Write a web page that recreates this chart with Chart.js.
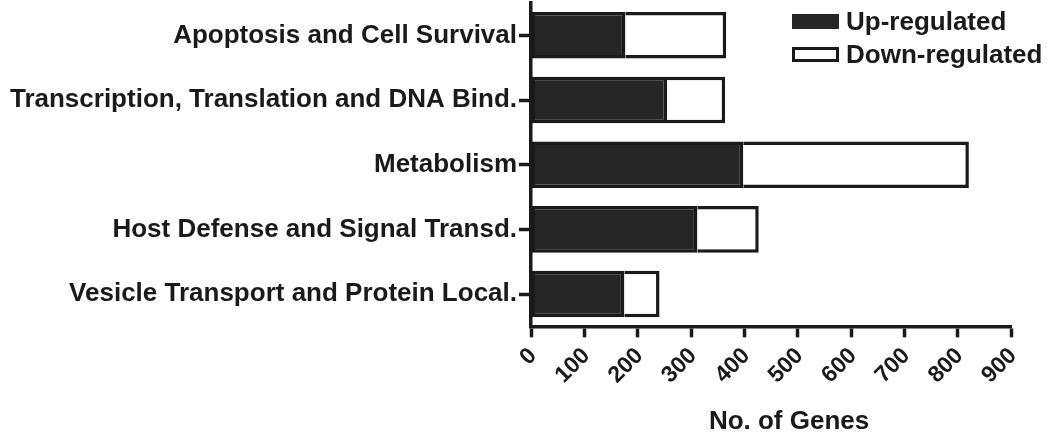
<!DOCTYPE html>
<html>
<head>
<meta charset="utf-8">
<title>No. of Genes</title>
<script src="https://cdn.jsdelivr.net/npm/chart.js@4.4.1/dist/chart.umd.min.js"></script>
<style>
    html, body { margin: 0; padding: 0; background: #fff; }
    #wrap { position: relative; width: 1050px; height: 436px; }
    #legend {
        position: absolute; left: 792px; top: 5px;
        list-style: none; margin: 0; padding: 0;
        font: bold 26px "Liberation Sans", Arial, sans-serif; color: #1a1a1a;
    }
    #legend li { display: flex; align-items: center; height: 33px; }
    #legend .swatch { width: 47px; height: 15px; box-sizing: border-box; margin-right: 7px; }
</style>
</head>
<body>
<div id="wrap">
    <canvas id="chartGenes" width="1050" height="436"></canvas>
    <ul id="legend"></ul>
</div>
<script>
// ---- datos ----
const categories = [
    'Apoptosis and Cell Survival',
    'Transcription, Translation and DNA Bind.',
    'Metabolism',
    'Host Defense and Signal Transd.',
    'Vesicle Transport and Protein Local.'
];
const upRegulated = [177, 255, 398, 312, 175];
const downRegulated = [189, 109, 423, 115, 66];
const xTicks = [0, 100, 200, 300, 400, 500, 600, 700, 800, 900];

(function () {
    'use strict';

    const INK = '#1a1a1a';
    const FILL = '#262626';
    const FONT = '"Liberation Sans", Arial, sans-serif';

    function buildLegend(chart) {
        const list = document.getElementById('legend');
        if (!list) return;
        list.innerHTML = chart.data.datasets.map(ds => {
            const bg = ds.backgroundColor;
            const border = bg === '#ffffff' ? `border:3.5px solid ${INK};` : '';
            return `<li><span class="swatch" style="background:${bg};${border}"></span>${ds.label}</li>`;
        }).join('');
    }

    const ctx = document.getElementById('chartGenes').getContext('2d');

    const chart = new Chart(ctx, {
        type: 'bar',
        data: {
            labels: categories,
            datasets: [
                {
                    label: 'Up-regulated',
                    data: upRegulated,
                    backgroundColor: FILL,
                    borderColor: INK,
                    borderWidth: 3.5,
                    borderSkipped: false
                },
                {
                    label: 'Down-regulated',
                    data: downRegulated,
                    backgroundColor: '#ffffff',
                    borderColor: INK,
                    borderWidth: 3.5,
                    borderSkipped: 'start'
                }
            ]
        },
        options: {
            indexAxis: 'y',
            responsive: false,
            animation: false,
            categoryPercentage: 1,
            barPercentage: 0.72,
            layout: { padding: { top: 3, right: 39, bottom: 0, left: 4 } },
            plugins: {
                legend: { display: false },
                tooltip: { enabled: false }
            },
            scales: {
                x: {
                    stacked: true,
                    min: 0,
                    max: 900,
                    afterBuildTicks: axis => { axis.ticks = xTicks.map(v => ({ value: v })); },
                    border: { display: true, width: 3.5, color: INK },
                    grid: {
                        display: true, drawOnChartArea: false, drawTicks: true,
                        tickLength: 11, tickWidth: 3.5, tickColor: INK
                    },
                    ticks: {
                        minRotation: 45, maxRotation: 45, padding: 5, labelOffset: 2,
                        color: INK, font: { family: FONT, size: 23, weight: 'bold' }
                    },
                    title: {
                        display: true,
                        text: '     No. of Genes',
                        color: INK,
                        font: { family: FONT, size: 26, weight: 'bold', lineHeight: 1 },
                        padding: { top: 15, bottom: 1 }
                    }
                },
                y: {
                    stacked: true,
                    // ancho fijo del eje para que la etiqueta larga no se corte
                    afterFit: axis => {
                        axis.width = 527;
                        axis.paddingTop = 0;
                        axis.paddingBottom = 0;
                    },
                    border: { display: true, width: 3.5, color: INK },
                    grid: {
                        display: true, offset: false, drawOnChartArea: false, drawTicks: true,
                        tickLength: 12, tickWidth: 3.5, tickColor: INK
                    },
                    ticks: {
                        padding: 2,
                        color: INK, font: { family: FONT, size: 26, weight: 'bold' }
                    }
                }
            }
        }
    });

    buildLegend(chart);
})();
</script>
</body>
</html>
